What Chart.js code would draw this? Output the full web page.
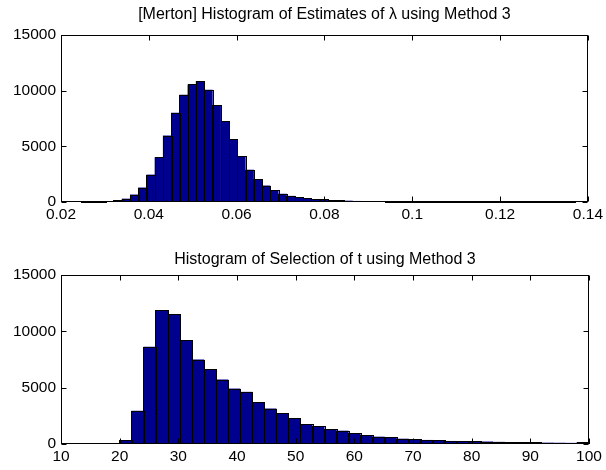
<!DOCTYPE html>
<html>
<head>
<meta charset="utf-8">
<script src="https://cdn.jsdelivr.net/npm/chart.js@4.4.1/dist/chart.umd.min.js"></script>
<style>
  html, body { margin: 0; padding: 0; background: #fff; }
  #wrap { position: relative; width: 606px; height: 470px; }
  canvas { position: absolute; left: 0; }
  #topChart { top: 0; }
  #bottomChart { top: 235px; }
</style>
</head>
<body>
<div id="wrap">
  <canvas id="topChart" width="606" height="235"></canvas>
  <canvas id="bottomChart" width="606" height="235"></canvas>
</div>
<script>
/* ---- DATA: lambda estimates (bin centres + counts) ---- */
const lambdaBins = [
  0.0254375, 0.0273125, 0.0291875, 0.0310625, 0.0329375, 0.0348125, 0.0366875, 0.0385625,
  0.0404375, 0.0423125, 0.0441875, 0.0460625, 0.0479375, 0.0498125, 0.0516875, 0.0535625,
  0.0554375, 0.0573125, 0.0591875, 0.0610625, 0.0629375, 0.0648125, 0.0666875, 0.0685625,
  0.0704375, 0.0723125, 0.0741875, 0.0760625, 0.0779375, 0.0798125, 0.0816875, 0.0835625,
  0.0854375, 0.0873125, 0.0891875, 0.0910625, 0.0929375, 0.0948125, 0.0966875, 0.0985625,
  0.1004375, 0.1023125, 0.1041875, 0.1060625, 0.1079375, 0.1098125, 0.1116875, 0.1135625,
  0.1154375, 0.1173125, 0.1191875, 0.1210625, 0.1229375, 0.1248125, 0.1266875, 0.1285625,
  0.1304375, 0.1323125, 0.1341875, 0.1360625
];
const lambdaCounts = [
  5, 15, 30, 60, 170, 300, 670, 1300,
  2460, 4010, 5970, 8020, 9640, 10560, 10850, 10090,
  8700, 7240, 5650, 4110, 2900, 2060, 1480, 1070,
  740, 550, 430, 340, 270, 230, 180, 150,
  120, 95, 75, 60, 45, 35, 28, 22,
  17, 13, 10, 8, 7, 6, 5, 4,
  3, 3, 2, 2, 2, 1, 1, 1,
  1, 0, 0, 1
];
const lambdaTicks = [0.02, 0.04, 0.06, 0.08, 0.1, 0.12, 0.14];

/* ---- DATA: selection of t ---- */
const tBins = [
  21.0256, 23.0769, 25.1282, 27.1795, 29.2308, 31.2821, 33.3333, 35.3846,
  37.4359, 39.4872, 41.5385, 43.5897, 45.6410, 47.6923, 49.7436, 51.7949,
  53.8462, 55.8974, 57.9487, 60.0000, 62.0513, 64.1026, 66.1538, 68.2051,
  70.2564, 72.3077, 74.3590, 76.4103, 78.4615, 80.5128, 82.5641, 84.6154,
  86.6667, 88.7179, 90.7692, 92.8205, 94.8718, 96.9231, 98.9744
];
const tCounts = [
  354, 2950, 8640, 11880, 11530, 9200, 7490, 6630,
  5720, 4920, 4630, 3710, 3150, 2740, 2270, 1770,
  1590, 1300, 1180, 940, 800, 650, 590, 470,
  430, 360, 330, 270, 240, 250, 220, 190,
  170, 160, 140, 120, 110, 100, 160
];
const tTicks = [10, 20, 30, 40, 50, 60, 70, 80, 90, 100];

const countTicks = [0, 5000, 10000, 15000];

/* ---- STYLE ---- */
const BAR_FILL = '#00008f';
const FONT = "'Liberation Sans', Arial, Helvetica, sans-serif";
Chart.defaults.font.family = FONT;
Chart.defaults.font.size = 15.5;
Chart.defaults.color = '#000';

/* ---- crisp 1px black bar outlines, taken from the bar elements ---- */
const outlinePlugin = {
  id: 'barOutline',
  afterDatasetsDraw(chart) {
    const ctx = chart.ctx;
    ctx.save();
    ctx.strokeStyle = '#000';
    ctx.lineWidth = 1;
    chart.getDatasetMeta(0).data.forEach(bar => {
      const { x, y, base, width } = bar.getProps(['x', 'y', 'base', 'width'], true);
      const l = Math.round(x - width / 2) + 0.5;
      const r = Math.round(x + width / 2) + 0.5;
      const t = Math.round(y) + 0.5;
      const b = Math.round(base) - 0.5;
      ctx.strokeRect(l, Math.min(t, b), r - l, Math.abs(b - t));
    });
    ctx.restore();
  }
};

/* ---- MATLAB-like box with inward ticks ---- */
const boxPlugin = {
  id: 'matlabBox',
  afterDatasetsDraw(chart) {
    const { ctx, chartArea: a, scales: { x, y } } = chart;
    const L = Math.round(a.left) + 0.5, R = Math.round(a.right) - 0.5;
    const T = Math.round(a.top) + 0.5, B = Math.round(a.bottom) - 0.5;
    ctx.save();
    ctx.strokeStyle = '#000';
    ctx.lineWidth = 1;
    ctx.beginPath();
    x.ticks.forEach(t => {
      const px = Math.round(x.getPixelForValue(t.value)) + 0.5;
      ctx.moveTo(px, B); ctx.lineTo(px, B - 5);
      ctx.moveTo(px, T); ctx.lineTo(px, T + 5);
    });
    y.ticks.forEach(t => {
      const py = Math.round(y.getPixelForValue(t.value)) + 0.5;
      ctx.moveTo(L, py); ctx.lineTo(L + 5, py);
      ctx.moveTo(R, py); ctx.lineTo(R - 5, py);
    });
    ctx.stroke();
    ctx.strokeRect(L, T, R - L, B - T);
    ctx.restore();
  }
};

function makeHist(canvasId, opts) {
  return new Chart(document.getElementById(canvasId), {
    type: 'bar',
    data: {
      datasets: [{
        data: opts.bins.map((b, i) => ({ x: b, y: opts.counts[i] })),
        backgroundColor: BAR_FILL,
        borderWidth: 0,
        barPercentage: 1.05, // slight overlap so no seams show between fills
        categoryPercentage: 1
      }]
    },
    options: {
      responsive: false,
      animation: false,
      layout: { padding: { left: 0, right: 17, top: 0, bottom: 0 } },
      plugins: {
        legend: { display: false },
        tooltip: { enabled: false },
        title: {
          display: true,
          fullSize: false,
          text: opts.title,
          color: '#000',
          font: { size: 16, weight: 'normal' },
          padding: opts.titlePad
        }
      },
      scales: {
        x: {
          type: 'linear',
          offset: false,
          min: opts.ticks[0],
          max: opts.ticks[opts.ticks.length - 1],
          grid: { display: false, drawTicks: false },
          border: { display: false },
          afterBuildTicks: s => { s.ticks = opts.ticks.map(v => ({ value: v })); },
          afterFit: s => { s.height = opts.xHeight; },
          ticks: {
            autoSkip: false,
            maxRotation: 0,
            padding: 3,
            callback: v => String(+v.toFixed(4))
          }
        },
        y: {
          min: 0,
          max: 15000,
          grid: { display: false, drawTicks: false },
          border: { display: false },
          afterBuildTicks: s => { s.ticks = countTicks.map(v => ({ value: v })); },
          afterFit: s => { s.width = 61; },
          ticks: { padding: 5, callback: v => String(v) }
        }
      }
    },
    plugins: [outlinePlugin, boxPlugin]
  });
}

/* ---- INIT ---- */
makeHist('topChart', {
  bins: lambdaBins,
  counts: lambdaCounts,
  ticks: lambdaTicks,
  title: '[Merton] Histogram of Estimates of \u03bb using Method 3',
  titlePad: { top: 5, bottom: 10.8 },
  xHeight: 33
});

makeHist('bottomChart', {
  bins: tBins,
  counts: tCounts,
  ticks: tTicks,
  title: 'Histogram of Selection of t using Method 3',
  titlePad: { top: 14.6, bottom: 6.2 },
  xHeight: 26
});
</script>
</body>
</html>
